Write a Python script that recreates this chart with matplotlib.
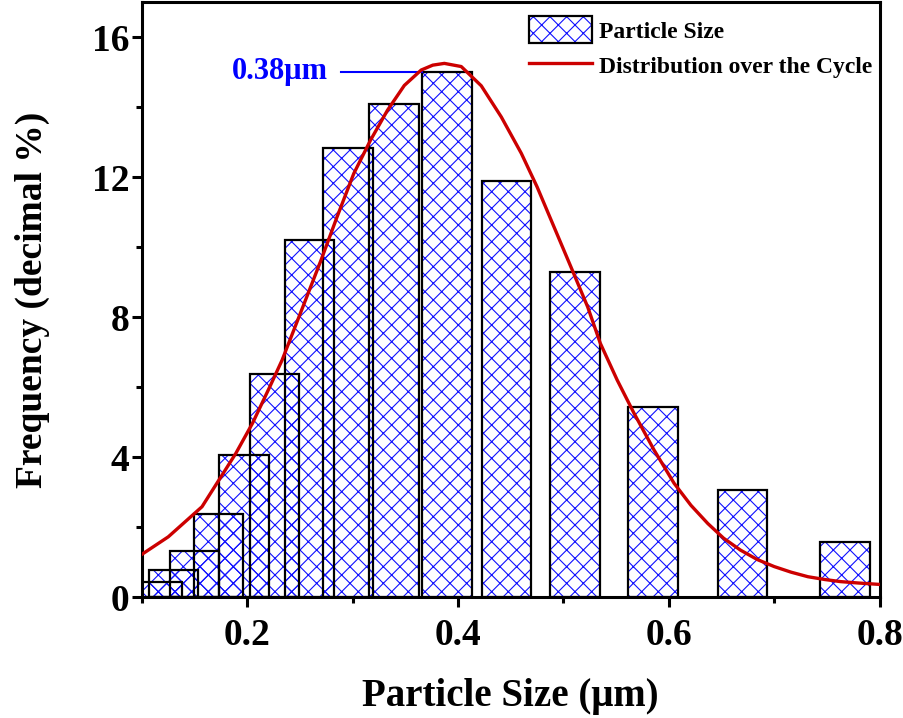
import matplotlib
matplotlib.use("Agg")
import matplotlib.pyplot as plt
from matplotlib.patches import Patch
from matplotlib.lines import Line2D
from matplotlib.legend_handler import HandlerTuple
from matplotlib.ticker import MultipleLocator

plt.rcParams['font.family'] = ['Liberation Serif', 'DejaVu Serif']
plt.rcParams['font.weight'] = 'bold'
plt.rcParams['hatch.linewidth'] = 0.8

# Histogram bins (bin centre in µm) and frequency
bin_centers = [0.1147, 0.130, 0.150, 0.1725, 0.197, 0.226, 0.2588, 0.2954,
               0.339, 0.3895, 0.4458, 0.511, 0.585, 0.670, 0.767]
frequency = [0.43, 0.77, 1.32, 2.36, 4.06, 6.37, 10.2, 12.82,
             14.1, 15.01, 11.9, 9.28, 5.44, 3.06, 1.56]
bin_width = 0.047

# Distribution curve samples
curve_x = [0.100, 0.125, 0.157, 0.173, 0.189, 0.205, 0.222, 0.233, 0.254,
           0.270, 0.285, 0.301, 0.317, 0.333, 0.349, 0.365, 0.376, 0.387,
           0.403, 0.422, 0.441, 0.460, 0.475, 0.491, 0.507, 0.523, 0.535,
           0.551, 0.567, 0.586, 0.605, 0.621, 0.637, 0.652, 0.668, 0.684,
           0.700, 0.716, 0.732, 0.748, 0.763, 0.780, 0.800]
curve_y = [1.22, 1.72, 2.58, 3.34, 4.10, 4.97, 6.05, 6.77, 8.39,
           9.63, 10.85, 12.10, 13.06, 13.91, 14.62, 15.06, 15.20, 15.25,
           15.16, 14.61, 13.72, 12.68, 11.72, 10.58, 9.44, 8.29, 7.25,
           6.20, 5.25, 4.20, 3.25, 2.62, 2.10, 1.68, 1.34, 1.07,
           0.87, 0.71, 0.58, 0.50, 0.44, 0.40, 0.36]

peak_label = "0.38μm"
peak_y = 15.01

fig = plt.figure(figsize=(9.04, 7.18), dpi=100)
ax = fig.add_axes([0.157, 0.1685, 0.816, 0.8285])

ax.bar(bin_centers, frequency, width=bin_width, facecolor='none',
       edgecolor='#1010ff', hatch='xx', linewidth=0, zorder=2)
ax.bar(bin_centers, frequency, width=bin_width, fill=False,
       edgecolor='black', linewidth=1.6, zorder=3)
ax.plot(curve_x, curve_y, color='#cc0000', linewidth=2.4, zorder=4)

# Peak marker
ax.plot([0.2885, bin_centers[9] - bin_width / 2], [peak_y, peak_y],
        color='#0000ff', linewidth=1.5, zorder=3)
ax.text(0.2765, peak_y, peak_label, color='#0000ff', fontsize=22,
        fontweight='bold', ha='right', va='center')

ax.set_xlim(0.1, 0.8)
ax.set_ylim(0, 17)
ax.xaxis.set_major_locator(MultipleLocator(0.2))
ax.xaxis.set_minor_locator(MultipleLocator(0.1))
ax.yaxis.set_major_locator(MultipleLocator(4))
ax.yaxis.set_minor_locator(MultipleLocator(2))
ax.set_xticks([0.2, 0.4, 0.6, 0.8])
ax.set_xticklabels(['0.2', '0.4', '0.6', '0.8'])

for s in ax.spines.values():
    s.set_linewidth(2.2)
ax.tick_params(axis='both', which='major', direction='out', length=7,
               width=2.2, labelsize=27)
ax.tick_params(axis='both', which='minor', direction='out', length=4,
               width=2.2)
ax.tick_params(axis='x', which='major', pad=8)
ax.tick_params(axis='y', which='major', pad=2)
ax.tick_params(top=False, right=False, which='both')

ax.set_xlabel('Particle Size (μm)', fontsize=28, fontweight='bold', labelpad=18)
ax.set_ylabel('Frequency (decimal %)', fontsize=27, fontweight='bold', labelpad=30)

h_patch = (Patch(facecolor='white', edgecolor='#1010ff', hatch='xx', linewidth=0),
           Patch(fill=False, edgecolor='black', linewidth=1.6))
h_line = Line2D([], [], color='#cc0000', linewidth=2.4)
ax.legend([h_patch, h_line], ['Particle Size', 'Distribution over the Cycle'],
          handler_map={tuple: HandlerTuple(ndivide=1)},
          loc='upper right', bbox_to_anchor=(1.009, 1.0), frameon=False,
          prop={'size': 17, 'weight': 'bold'}, handlelength=2.67,
          handleheight=1.36, handletextpad=0.3, labelspacing=0.38,
          borderaxespad=0.5, borderpad=0.1)

fig.savefig('out.png', dpi=100)
